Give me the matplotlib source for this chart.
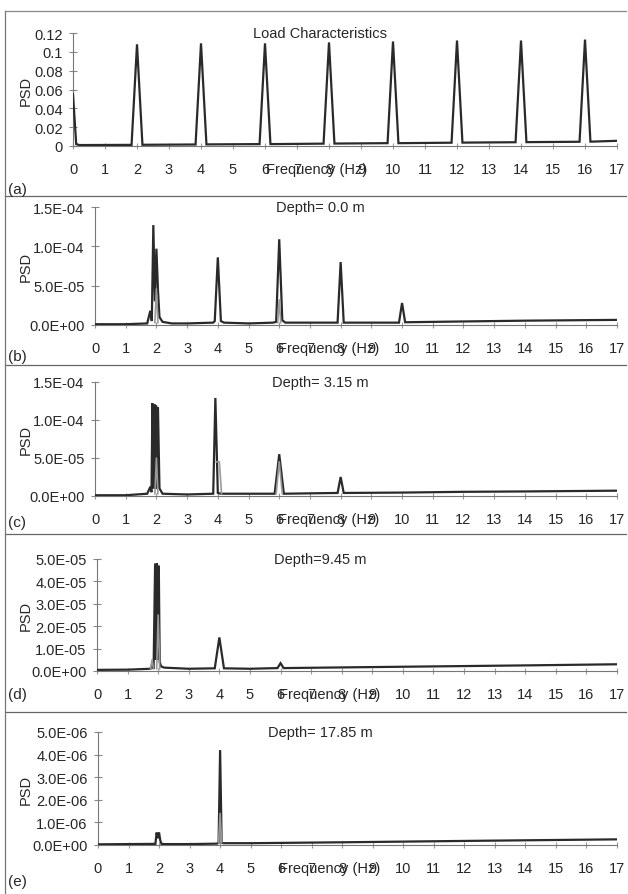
import numpy as np
import matplotlib
matplotlib.use("Agg")
import matplotlib.pyplot as plt
from matplotlib.ticker import FuncFormatter, MultipleLocator
from matplotlib.lines import Line2D

plt.rcParams['font.family'] = ['Liberation Sans', 'DejaVu Sans']

# ---------------- data ----------------
freq_ticks = list(range(0, 18))

freq_a = [0, 0.1, 0.2, 1.83, 2.0, 2.17, 3.83, 4.0, 4.17, 5.83, 6.0, 6.17,
          7.83, 8.0, 8.17, 9.83, 10.0, 10.17, 11.83, 12.0, 12.17,
          13.83, 14.0, 14.17, 15.83, 16.0, 16.17, 17.0]
psd_a = [0.055, 0.002, 0.001, 0.0012, 0.108, 0.0013, 0.0016, 0.109, 0.0017,
         0.002, 0.109, 0.002, 0.0025, 0.110, 0.0026, 0.003, 0.111, 0.003,
         0.0035, 0.112, 0.0036, 0.004, 0.112, 0.0041, 0.0045, 0.113, 0.0046, 0.0055]

freq_b = [0, 1.0, 1.7, 1.8, 1.85, 1.9, 1.95, 2.0, 2.05, 2.1, 2.2, 2.5, 3.0,
          3.85, 3.9, 4.0, 4.1, 4.2, 5.0, 5.8, 5.9, 6.0, 6.1, 6.2, 7.0,
          7.9, 8.0, 8.1, 9.0, 9.9, 10.0, 10.1, 12.0, 14.0, 17.0]
psd_b = [1e-6, 1e-6, 2e-6, 1.8e-5, 5e-6, 1.27e-4, 3e-5, 9.7e-5, 4.5e-5, 1e-5,
         4e-6, 2e-6, 2e-6, 3e-6, 5e-6, 8.6e-5, 5e-6, 3e-6, 2e-6, 3e-6, 4e-6,
         1.09e-4, 6e-6, 3e-6, 3e-6, 3e-6, 8.0e-5, 3e-6, 3e-6, 3e-6, 2.8e-5,
         3.5e-6, 4.5e-6, 5.5e-6, 6.5e-6]
freq_b_lt = [1.95, 2.0, 2.05, np.nan, 5.95, 6.0, 6.05]
psd_b_lt = [3e-6, 4.6e-5, 3e-6, np.nan, 3e-6, 3.2e-5, 3e-6]

freq_c = [0, 1.0, 1.7, 1.8, 1.84, 1.87, 1.9, 1.93, 1.96, 1.99, 2.02, 2.05,
          2.1, 2.2, 3.0, 3.85, 3.92, 4.0, 4.1, 5.0, 5.85, 6.0, 6.15, 7.0,
          7.9, 8.0, 8.1, 10.0, 12.0, 14.0, 17.0]
psd_c = [1e-6, 1e-6, 3e-6, 1.2e-5, 5e-6, 1.22e-4, 1e-5, 1.21e-4, 1e-5, 1.19e-4,
         1e-5, 1.17e-4, 1e-5, 3e-6, 2e-6, 3e-6, 1.29e-4, 4e-6, 3e-6, 3e-6,
         3e-6, 5.5e-5, 3e-6, 3.5e-6, 4e-6, 2.5e-5, 4e-6, 4.5e-6, 5.5e-6, 6e-6, 7e-6]
freq_c_lt = [1.95, 2.0, 2.05, np.nan, 3.95, 4.05, 4.12, np.nan, 5.9, 6.0, 6.1]
psd_c_lt = [3e-6, 5e-5, 3e-6, np.nan, 4.5e-5, 4.5e-5, 3e-6, np.nan, 3e-6, 4.5e-5, 3e-6]

freq_d = [0, 1.0, 1.75, 1.8, 1.85, 1.9, 1.93, 1.96, 1.99, 2.02, 2.05, 2.1,
          2.2, 3.0, 3.85, 4.0, 4.15, 5.0, 5.9, 6.0, 6.1, 8.0, 10.0, 12.0, 14.0, 17.0]
psd_d = [5e-7, 6e-7, 1e-6, 3e-6, 1e-6, 4.8e-5, 5e-6, 4.8e-5, 5e-6, 4.7e-5,
         4e-6, 2e-6, 1.5e-6, 1e-6, 1.2e-6, 1.5e-5, 1.2e-6, 1e-6, 1.3e-6, 3.5e-6,
         1.3e-6, 1.6e-6, 1.9e-6, 2.2e-6, 2.5e-6, 3e-6]
freq_d_lt = [1.75, 1.8, 1.85, np.nan, 1.95, 2.0, 2.05]
psd_d_lt = [1e-6, 5e-6, 1e-6, np.nan, 1e-6, 2.5e-5, 1e-6]

freq_e = [0, 1.0, 1.88, 1.92, 1.96, 2.0, 2.04, 2.08, 2.2, 3.0, 3.9, 3.95, 4.0,
          4.05, 4.1, 5.0, 8.0, 12.0, 17.0]
psd_e = [3e-8, 4e-8, 5e-8, 5.5e-7, 3e-7, 5.5e-7, 2e-7, 5e-8, 4e-8, 4e-8, 6e-8,
         1e-7, 4.2e-6, 1e-7, 8e-8, 8e-8, 1.2e-7, 1.8e-7, 2.5e-7]
freq_e_lt = [3.95, 4.0, 4.05]
psd_e_lt = [1e-7, 1.4e-6, 1e-7]

titles = ["Load Characteristics", "Depth= 0.0 m", "Depth= 3.15 m",
          "Depth=9.45 m", "Depth= 17.85 m"]
panel_tags = ["(a)", "(b)", "(c)", "(d)", "(e)"]
y_max = [0.12, 1.5e-4, 1.5e-4, 5e-5, 5e-6]
y_step = [0.02, 5e-5, 5e-5, 1e-5, 1e-6]

series = [(freq_a, psd_a, None, None),
          (freq_b, psd_b, freq_b_lt, psd_b_lt),
          (freq_c, psd_c, freq_c_lt, psd_c_lt),
          (freq_d, psd_d, freq_d_lt, psd_d_lt),
          (freq_e, psd_e, freq_e_lt, psd_e_lt)]

# ---------------- layout (pixels) ----------------
W, H = 628, 895
ax_left = [73, 95, 95, 97, 98]
ax_right = 617
ax_top = [34, 208, 383, 560, 733]
ax_bot = [147, 326, 497, 672, 846]
tag_y = [190, 357, 523, 695, 882]
borders = [12, 197, 366, 535, 713]

fig = plt.figure(figsize=(W / 100, H / 100), dpi=100)
fig.patch.set_facecolor('white')

def fx(px):
    return px / W

def fy(py):
    return 1 - py / H

txt_col = '#262626'
fs = 10.5

for i in range(5):
    l, t, b = ax_left[i], ax_top[i], ax_bot[i]
    ax = fig.add_axes([fx(l), fy(b), (ax_right - l) / W, (b - t) / H])
    fr, ps, frl, psl = series[i]
    ax.plot(fr, ps, color='#2a2a2a', lw=1.6, solid_joinstyle='miter', zorder=3)
    if frl is not None:
        ax.plot(frl, psl, color='#9a9a9a', lw=1.2, zorder=4)
    ax.set_xlim(0, 17)
    ax.set_ylim(0, y_max[i])
    ax.set_xticks(freq_ticks)
    ax.yaxis.set_major_locator(MultipleLocator(y_step[i]))
    if i == 0:
        ax.yaxis.set_major_formatter(FuncFormatter(lambda v, p: f"{v:g}"))
    else:
        ax.yaxis.set_major_formatter(FuncFormatter(lambda v, p: f"{v:.1E}"))
    for s in ['top', 'right']:
        ax.spines[s].set_visible(False)
    for s in ['left', 'bottom']:
        ax.spines[s].set_color('#777777')
        ax.spines[s].set_linewidth(0.8)
    ax.tick_params(axis='y', direction='inout', length=6, width=0.8,
                   color='#888888', labelsize=fs, labelcolor=txt_col, pad=4.5)
    ax.tick_params(axis='x', direction='inout', length=4, width=0.8,
                   color='#999999', labelsize=fs, labelcolor=txt_col, pad=9.5)
    ax.patch.set_alpha(0)
    # title inside the plot
    fig.text(fx(320), fy(t), titles[i], ha='center', va='center',
             fontsize=fs, color=txt_col)
    # y label
    fig.text(fx(26), fy((t + b) / 2), "PSD", rotation=90, ha='center',
             va='center', fontsize=fs, color=txt_col)
    # x label
    ax.text(7.6, -0.205 * (y_max[i]) * (113 / (b - t)) * 1.0, "Frequency (Hz)",
            ha='center', va='center', fontsize=fs, color=txt_col,
            transform=ax.transData)
    fig.text(fx(8), fy(tag_y[i]), panel_tags[i], ha='left', va='center',
             fontsize=fs + 0.5, color=txt_col)

# panel frames
for yb in borders[1:]:
    fig.add_artist(Line2D([fx(5), fx(626)], [fy(yb), fy(yb)], color='#666666', lw=0.9))
fig.add_artist(Line2D([fx(5), fx(626)], [fy(borders[0]), fy(borders[0])], color='#888888', lw=0.9))
fig.add_artist(Line2D([fx(5), fx(5)], [fy(borders[0]), fy(894)], color='#777777', lw=0.9))

fig.savefig("out.png", dpi=100)
